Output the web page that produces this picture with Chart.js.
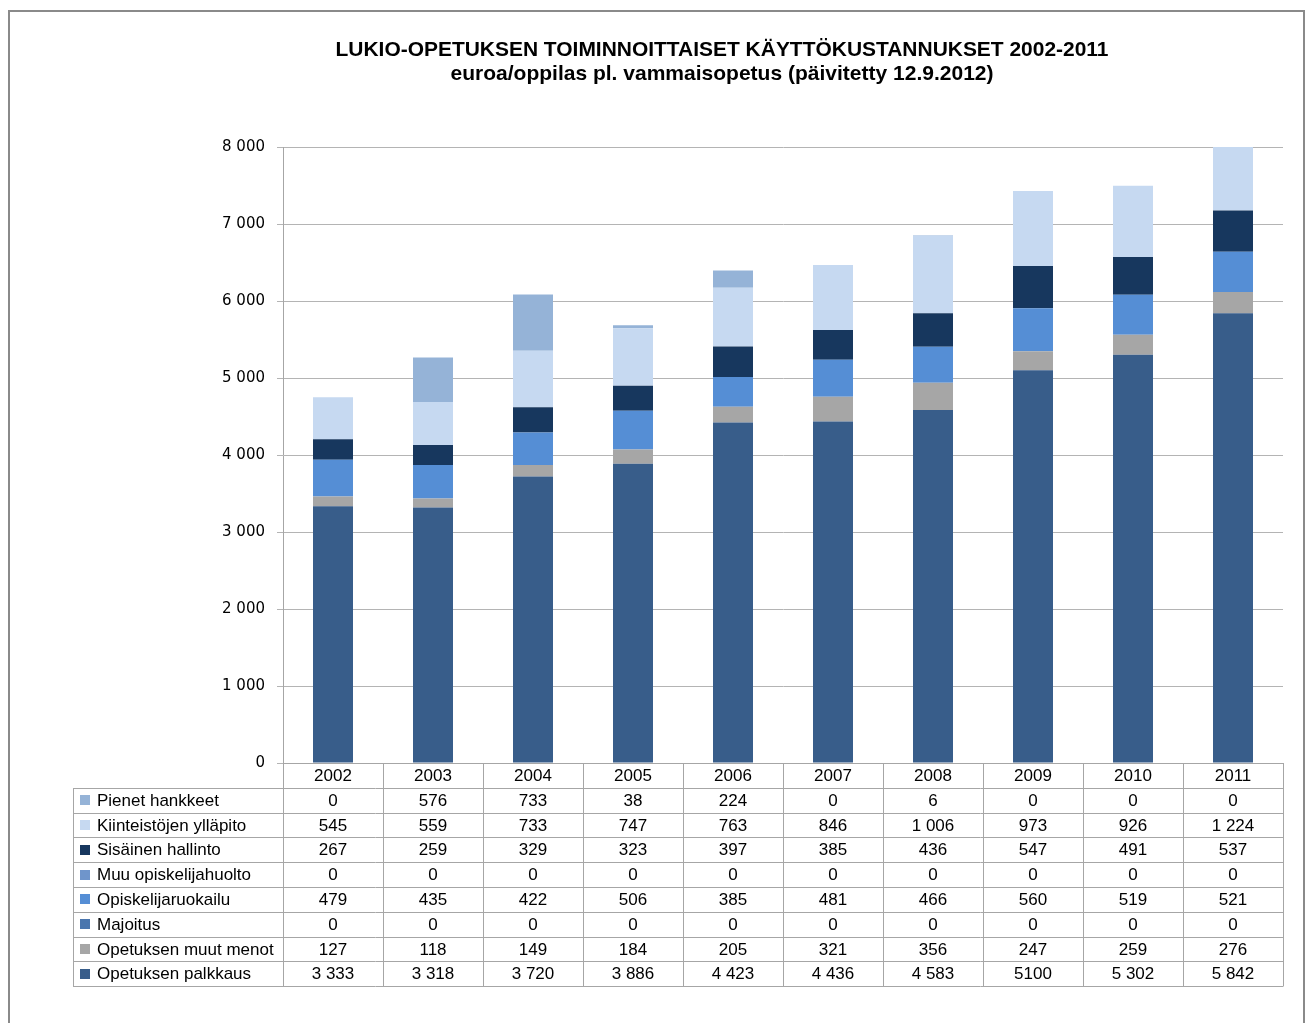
<!DOCTYPE html>
<html>
<head>
<meta charset="utf-8">
<script src="https://cdn.jsdelivr.net/npm/chart.js@4.4.1/dist/chart.umd.min.js"></script>
<style>
  html, body { margin: 0; padding: 0; background: #fff; }
  #wrap { width: 1306px; height: 1023px; }
</style>
</head>
<body>
<div id="wrap"><canvas id="chart" width="1306" height="1023"></canvas></div>
<script>
// data (euroa/oppilas)
const years = ["2002", "2003", "2004", "2005", "2006", "2007", "2008", "2009", "2010", "2011"];
const pienetHankkeet = [0, 576, 733, 38, 224, 0, 6, 0, 0, 0];
const kiinteistot = [545, 559, 733, 747, 763, 846, 1006, 973, 926, 1224];
const sisainenHallinto = [267, 259, 329, 323, 397, 385, 436, 547, 491, 537];
const muuOpiskelijahuolto = [0, 0, 0, 0, 0, 0, 0, 0, 0, 0];
const opiskelijaruokailu = [479, 435, 422, 506, 385, 481, 466, 560, 519, 521];
const majoitus = [0, 0, 0, 0, 0, 0, 0, 0, 0, 0];
const muutMenot = [127, 118, 149, 184, 205, 321, 356, 247, 259, 276];
const palkkaus = [3333, 3318, 3720, 3886, 4423, 4436, 4583, 5100, 5302, 5842];
const yMax = 8000;
const yStep = 1000;

// the source table writes this one without the space
const cellTextOverride = { "Opetuksen palkkaus|2009": "5100" };

const titleLines = [
  "LUKIO-OPETUKSEN TOIMINNOITTAISET KÄYTTÖKUSTANNUKSET 2002-2011",
  "euroa/oppilas pl. vammaisopetus (päivitetty 12.9.2012)"
];

// bottom of the stack first
const series = [
  { name: "Opetuksen palkkaus", data: palkkaus, color: "#385D8A" },
  { name: "Opetuksen muut menot", data: muutMenot, color: "#A6A6A6" },
  { name: "Majoitus", data: majoitus, color: "#4A76AE" },
  { name: "Opiskelijaruokailu", data: opiskelijaruokailu, color: "#558ED5" },
  { name: "Muu opiskelijahuolto", data: muuOpiskelijahuolto, color: "#6F95CB" },
  { name: "Sisäinen hallinto", data: sisainenHallinto, color: "#17375E" },
  { name: "Kiinteistöjen ylläpito", data: kiinteistot, color: "#C6D9F1" },
  { name: "Pienet hankkeet", data: pienetHankkeet, color: "#95B3D7" }
];

function fmt(n) {
  return String(n).replace(/\B(?=(\d{3})+(?!\d))/g, " ");
}

const frameAndTitle = {
  id: "frameAndTitle",
  afterDraw(chart) {
    const ctx = chart.ctx;
    ctx.save();
    ctx.strokeStyle = "#8a8a8a";
    ctx.lineWidth = 2;
    ctx.strokeRect(9, 11, 1295, 1030);

    ctx.fillStyle = "#000";
    ctx.textAlign = "center";
    ctx.textBaseline = "middle";
    // title in the reference is tall and narrow, squeeze it to the same width
    const widths = [773, 543];
    const ys = [50, 74];
    titleLines.forEach((t, i) => {
      ctx.font = "bold 21px 'Liberation Sans', Arial, sans-serif";
      const w = ctx.measureText(t).width;
      const sx = widths[i] / w;
      ctx.save();
      ctx.translate(722, ys[i]);
      ctx.scale(sx, 1);
      ctx.fillText(t, 0, 0);
      ctx.restore();
    });
    ctx.restore();
  }
};

const dataTable = {
  id: "dataTable",
  afterDraw(chart) {
    const { ctx, chartArea } = chart;
    const x = chart.scales.x;
    const n = years.length;
    const colW = (x.right - x.left) / n;
    const rowH = 24.8;
    const top = chartArea.bottom;
    const tableLeft = 73;
    const rows = series.slice().reverse();
    const bottom = top + rowH * (rows.length + 1);

    ctx.save();
    ctx.strokeStyle = "#a6a6a6";
    ctx.lineWidth = 1;
    ctx.beginPath();
    // header top line (category axis)
    ctx.moveTo(x.left, top + 0.5);
    ctx.lineTo(x.right, top + 0.5);
    for (let r = 1; r <= rows.length + 1; r++) {
      const y = Math.round(top + r * rowH) + 0.5;
      ctx.moveTo(tableLeft, y);
      ctx.lineTo(x.right, y);
    }
    ctx.moveTo(tableLeft + 0.5, Math.round(top + rowH));
    ctx.lineTo(tableLeft + 0.5, Math.round(bottom) + 0.5);
    for (let c = 0; c <= n; c++) {
      const xx = Math.round(x.left + c * colW) + 0.5;
      ctx.moveTo(xx, top);
      ctx.lineTo(xx, Math.round(bottom) + 0.5);
    }
    ctx.stroke();

    ctx.fillStyle = "#000";
    ctx.textBaseline = "middle";
    ctx.font = "17px 'Liberation Sans', Arial, sans-serif";
    ctx.textAlign = "center";
    years.forEach((yr, i) => {
      ctx.fillText(yr, x.getPixelForValue(i), top + rowH / 2 + 1);
    });
    rows.forEach((s, r) => {
      const cy = top + (r + 1.5) * rowH + 1;
      ctx.fillStyle = s.color;
      ctx.fillRect(80, Math.round(cy - 6), 10, 10);
      ctx.fillStyle = "#000";
      ctx.textAlign = "left";
      ctx.fillText(s.name, 97, cy);
      ctx.textAlign = "center";
      s.data.forEach((v, i) => {
        const key = s.name + "|" + years[i];
        const txt = cellTextOverride[key] || fmt(v);
        ctx.fillText(txt, x.getPixelForValue(i), cy);
      });
    });
    ctx.restore();
  }
};

new Chart(document.getElementById("chart"), {
  type: "bar",
  data: {
    labels: years,
    datasets: series.map(s => ({
      label: s.name,
      data: s.data,
      backgroundColor: s.color,
      borderWidth: 0,
      barPercentage: 0.4,
      categoryPercentage: 1
    }))
  },
  options: {
    responsive: false,
    animation: false,
    layout: { padding: { left: 213, top: 147, right: 23, bottom: 260 } },
    plugins: {
      legend: { display: false },
      title: { display: false },
      tooltip: { enabled: false }
    },
    scales: {
      x: {
        stacked: true,
        display: false
      },
      y: {
        stacked: true,
        min: 0,
        max: yMax,
        afterFit(scale) { scale.width = 70; },
        ticks: {
          stepSize: yStep,
          padding: 12,
          color: "#000",
          font: { family: "'DejaVu Sans', sans-serif", size: 15 },
          callback: v => fmt(v)
        },
        grid: { color: "#b4b4b4", tickLength: 6, tickColor: "#b4b4b4" },
        border: { color: "#a6a6a6" }
      }
    }
  },
  plugins: [frameAndTitle, dataTable]
});
</script>
</body>
</html>
